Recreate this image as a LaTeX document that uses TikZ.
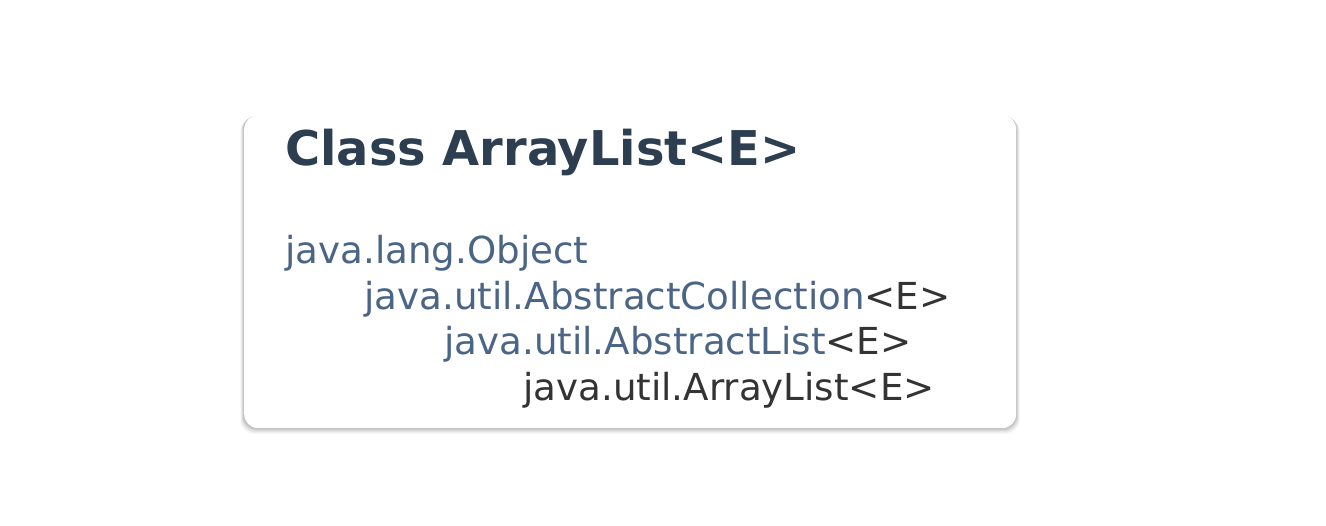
\documentclass[tikz,border=0pt]{standalone}
\usepackage{fontspec}
\setmainfont{DejaVu Sans}
\definecolor{titlec}{HTML}{2C3E50}
\definecolor{linkc}{HTML}{4A6585}
\definecolor{textc}{HTML}{333333}
\begin{document}
\begin{tikzpicture}[x=1pt,y=-1pt,
  titlestyle/.style={anchor=base west,inner sep=0pt,text=titlec,font=\fontsize{47.9}{48}\selectfont\bfseries},
  linestyle/.style={anchor=base west,inner sep=0pt,text=textc,font=\fontsize{37.2}{37}\selectfont},
  card/.style={fill=white,rounded corners=14pt}]
\useasboundingbox[fill=white] (0,0) rectangle (1326,526);
% shadow
\foreach \i/\o in {1/0.05,2/0.05,3/0.04,4/0.04,5/0.03,6/0.03,7/0.02,8/0.015}{
  \fill[black,opacity=\o,rounded corners=14pt] (244-\i*0.5,115+\i*0.3) rectangle (1016+\i*0.5,428+\i*0.8);
}
\node[card,minimum width=772pt,minimum height=313pt,inner sep=0pt,anchor=north west] (box) at (244,115) {};
\node[titlestyle] (title) at (285,166) {Class ArrayList<E>};
\node[linestyle] (l1) at (285,264) {\textcolor{linkc}{java.lang.Object}};
\node[linestyle] (l2) at (364,310) {\textcolor{linkc}{java.util.AbstractCollection}<E>};
\node[linestyle] (l3) at (444,355) {\textcolor{linkc}{java.util.AbstractList}<E>};
\node[linestyle] (l4) at (523,401) {java.util.ArrayList<E>};
\end{tikzpicture}
\end{document}
